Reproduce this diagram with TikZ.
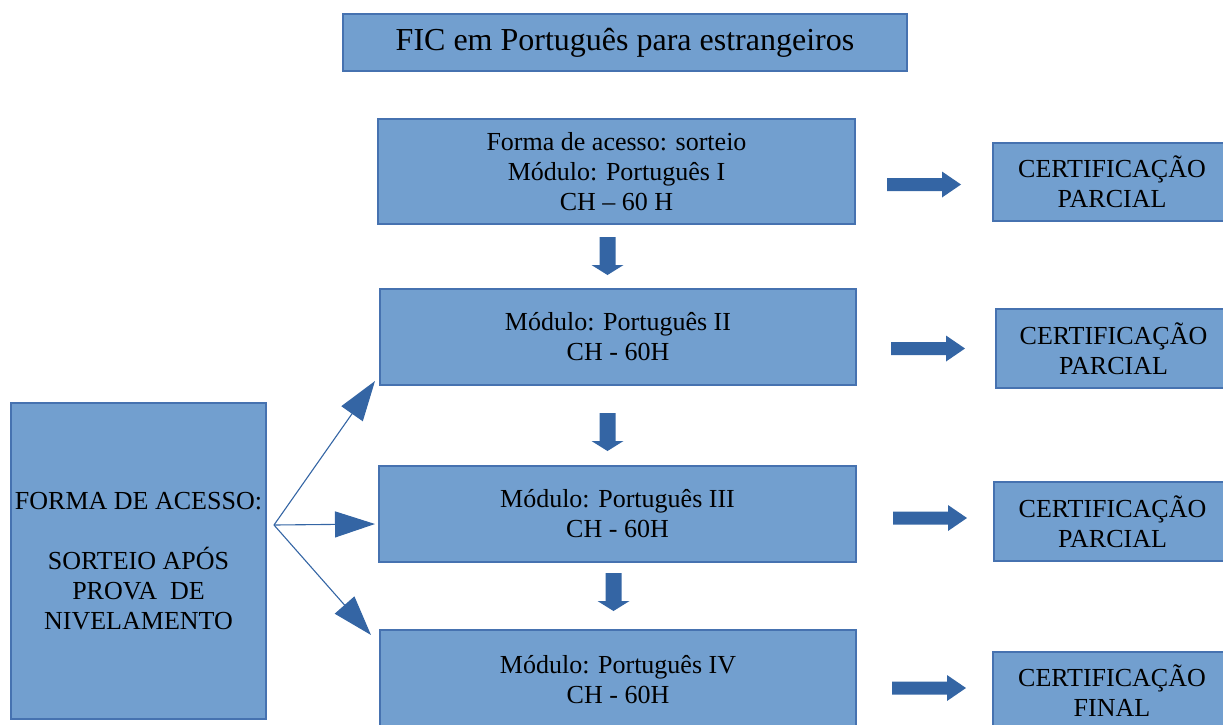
\documentclass[tikz,border=0pt]{standalone}
\usepackage{fontspec}
\setmainfont{Liberation Serif}
\usetikzlibrary{arrows.meta}
\definecolor{boxfill}{RGB}{114,159,207}
\definecolor{boxline}{RGB}{70,114,176}
\definecolor{arrowc}{RGB}{52,101,164}
\tikzset{
  bluebox/.style={draw=boxline, fill=boxfill, line width=1.1pt, align=center, inner sep=0pt,
    font=\fontsize{26}{30}\selectfont},
  thinarrow/.style={draw=arrowc, line width=1.1pt, -{Triangle[length=40pt,width=26pt]}},
  rblock/.pic={\fill[arrowc] (0,-6.5) -- (55,-6.5) -- (55,-13) -- (74,0) -- (55,13) -- (55,6.5) -- (0,6.5) -- cycle;},
  dblock/.pic={\fill[arrowc] (-8,0) -- (8,0) -- (8,28) -- (16,28) -- (0,38) -- (-16,28) -- (-8,28) -- cycle;}
}
\begin{document}
\begin{tikzpicture}[x=1pt,y=-1pt]
\useasboundingbox (0,0) rectangle (1223,724);
\clip (0,0) rectangle (1223,724);
% title
\node[bluebox, font=\fontsize{32}{38}\selectfont, minimum width=564pt, minimum height=57pt] (title) at (625,42.5) {FIC em Português para estrangeiros};
% module boxes
\node[bluebox, minimum width=477pt, minimum height=105pt] (m1) at (616.5,171.5) {Forma de acesso: sorteio\\Módulo: Português I\\CH – 60 H};
\node[bluebox, minimum width=476pt, minimum height=96pt] (m2) at (618,337) {Módulo: Português II\\CH - 60H};
\node[bluebox, minimum width=477pt, minimum height=96pt] (m3) at (617.5,514) {Módulo: Português III\\CH - 60H};
\node[bluebox, minimum width=476pt, minimum height=100pt] (m4) at (618,680) {Módulo: Português IV\\CH - 60H};
% left box
\node[bluebox, minimum width=255pt, minimum height=316pt] (left) at (138.5,561) {FORMA DE ACESSO:\\[30pt]SORTEIO APÓS\\PROVA\ \ DE\\NIVELAMENTO};
% certification boxes
\node[bluebox, minimum width=238pt, minimum height=78pt] (c1) at (1112,182) {CERTIFICAÇÃO\\PARCIAL};
\node[bluebox, minimum width=235pt, minimum height=79pt] (c2) at (1113.5,348.5) {CERTIFICAÇÃO\\PARCIAL};
\node[bluebox, minimum width=237pt, minimum height=79pt] (c3) at (1112.5,521.5) {CERTIFICAÇÃO\\PARCIAL};
\node[bluebox, minimum width=238pt, minimum height=78pt] (c4) at (1112,691) {CERTIFICAÇÃO\\FINAL};
% block arrows
\pic at (887,184.5) {rblock};
\pic at (891,348.5) {rblock};
\pic at (893,518) {rblock};
\pic at (892,688) {rblock};
\pic at (607.5,237) {dblock};
\pic at (607.5,413) {dblock};
\pic at (613.5,573) {dblock};
% thin arrows
\coordinate (o) at (274,525);
\coordinate (t1) at (375,381);
\coordinate (t2) at (375,524);
\coordinate (t3) at (371,635);
\draw[thinarrow] (o) -- (t1);
\draw[thinarrow] (o) -- (t2);
\draw[thinarrow] (o) -- (t3);
\end{tikzpicture}
\end{document}
